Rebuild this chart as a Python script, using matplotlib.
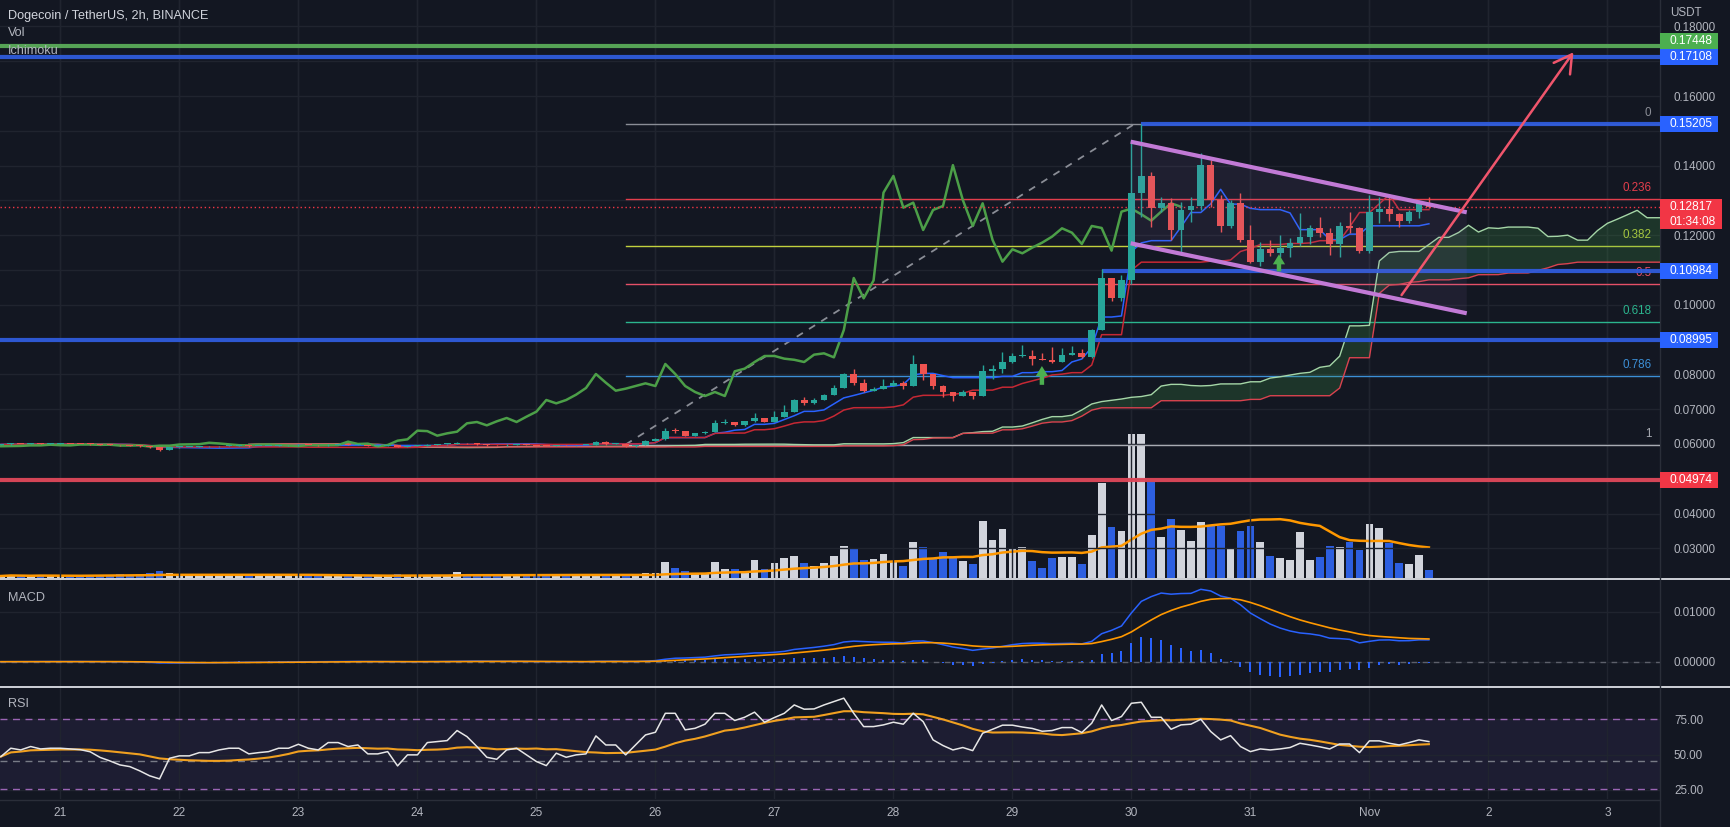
import numpy as np
import pandas as pd
import matplotlib
matplotlib.use("Agg")
import matplotlib.pyplot as plt
from matplotlib import transforms
from matplotlib.patches import Rectangle, Polygon, FancyArrowPatch
from matplotlib.lines import Line2D

plt.rcParams['font.family'] = ['Liberation Sans', 'DejaVu Sans']

# ---------------------------------------------------------------- data
start_day = 20.5          # first 2h bar (Oct 20, 12:00), x unit = day of October
bars_per_day = 12
first_open = 0.05985

close_flat = [0.05990, 0.06005, 0.06000, 0.06010, 0.06005, 0.06008, 0.06008, 0.06005, 0.06002, 0.05995,
              0.05985, 0.05975, 0.05960, 0.05955, 0.05935, 0.05900, 0.05820, 0.05905, 0.05915, 0.05915,
              0.05930, 0.05930, 0.05945, 0.05955, 0.05955, 0.05935, 0.05940, 0.05945, 0.05960, 0.05960,
              0.05980, 0.05965, 0.05960, 0.05985, 0.05985, 0.05975, 0.05980, 0.05955, 0.05955, 0.05962,
              0.05925, 0.05950, 0.05950, 0.05985, 0.05990, 0.05995, 0.06035, 0.06015, 0.05990, 0.05965,
              0.05960, 0.05980, 0.05985, 0.05970, 0.05955, 0.05940, 0.05970, 0.05960, 0.05965, 0.05968]
high_flat = [0.06000, 0.06015, 0.06012, 0.06025, 0.06015, 0.06030, 0.06015, 0.06012, 0.06010, 0.06005,
             0.05998, 0.05990, 0.05980, 0.05968, 0.05960, 0.05940, 0.05905, 0.05915, 0.05925, 0.05925,
             0.05940, 0.05938, 0.05955, 0.05965, 0.05962, 0.05960, 0.05950, 0.05955, 0.05972, 0.05968,
             0.05995, 0.05985, 0.05970, 0.05995, 0.05992, 0.05990, 0.05988, 0.05985, 0.05962, 0.05970,
             0.05965, 0.05958, 0.05960, 0.05995, 0.06000, 0.06005, 0.06060, 0.06040, 0.06020, 0.05995,
             0.05972, 0.05990, 0.05995, 0.05990, 0.05975, 0.05960, 0.05978, 0.05975, 0.05972, 0.05975]
low_flat = [0.05975, 0.05985, 0.05992, 0.05995, 0.05998, 0.06000, 0.06000, 0.05995, 0.05995, 0.05985,
            0.05975, 0.05965, 0.05950, 0.05945, 0.05925, 0.05885, 0.05800, 0.05815, 0.05895, 0.05905,
            0.05910, 0.05920, 0.05925, 0.05940, 0.05945, 0.05925, 0.05928, 0.05935, 0.05940, 0.05950,
            0.05955, 0.05958, 0.05950, 0.05955, 0.05975, 0.05965, 0.05968, 0.05945, 0.05945, 0.05950,
            0.05915, 0.05920, 0.05940, 0.05945, 0.05978, 0.05985, 0.05990, 0.06005, 0.05980, 0.05955,
            0.05950, 0.05955, 0.05975, 0.05962, 0.05945, 0.05930, 0.05935, 0.05952, 0.05955, 0.05958]

close_rise = [0.06067, 0.06000, 0.06010, 0.05930, 0.05970, 0.06095, 0.06134, 0.06383, 0.06370, 0.06239,
              0.06306, 0.06354, 0.06594, 0.06632, 0.06536, 0.06651, 0.06747, 0.06632, 0.06785, 0.06929,
              0.07264, 0.07168, 0.07264, 0.07417, 0.07609, 0.08011, 0.07762, 0.07532, 0.07590, 0.07666,
              0.07743, 0.07666, 0.08299, 0.08011, 0.07666, 0.07494, 0.07379, 0.07494, 0.07379, 0.08088,
              0.08165, 0.08356, 0.08528, 0.08530, 0.08452, 0.08420, 0.08356, 0.08567, 0.08605, 0.08490,
              0.09276, 0.10770, 0.10186, 0.10700,
              0.13223, 0.13702, 0.12792, 0.12936, 0.12150, 0.12725, 0.12840, 0.14013, 0.13012, 0.12265,
              0.12917, 0.11863, 0.11240, 0.11595, 0.11480, 0.11643, 0.11786, 0.11959, 0.12198, 0.12073,
              0.11748, 0.12265, 0.12208, 0.11556, 0.12677, 0.12763, 0.12600, 0.12418, 0.12677, 0.12917,
              0.12817]
high_rise = [0.06090, 0.06075, 0.06020, 0.06015, 0.05980, 0.06105, 0.06160, 0.06450, 0.06450, 0.06380,
             0.06315, 0.06365, 0.06689, 0.06709, 0.06640, 0.06660, 0.06900, 0.06755, 0.06958, 0.07111,
             0.07280, 0.07350, 0.07320, 0.07430, 0.07686, 0.08030, 0.08165, 0.07877, 0.07647, 0.07858,
             0.07839, 0.07820, 0.08567, 0.08310, 0.08020, 0.07700, 0.07500, 0.07551, 0.07500, 0.08280,
             0.08280, 0.08643, 0.08605, 0.08854, 0.08701, 0.08610, 0.08797, 0.08758, 0.08816, 0.08739,
             0.09295, 0.11038, 0.10780, 0.10850,
             0.14737, 0.15205, 0.13827, 0.13108, 0.13060, 0.12964, 0.13108, 0.14353, 0.14162, 0.13156,
             0.13012, 0.13204, 0.12294, 0.11815, 0.11863, 0.12007, 0.11911, 0.12629, 0.12294, 0.12533,
             0.12198, 0.12390, 0.12677, 0.12250, 0.13156, 0.13108, 0.13127, 0.12650, 0.12720, 0.13012,
             0.13108]
low_rise = [0.05960, 0.05985, 0.05992, 0.05920, 0.05925, 0.05965, 0.06085, 0.06125, 0.06320, 0.06230,
            0.06230, 0.06295, 0.06345, 0.06580, 0.06525, 0.06530, 0.06640, 0.06620, 0.06625, 0.06775,
            0.06920, 0.07111, 0.07160, 0.07255, 0.07400, 0.07600, 0.07686, 0.07490, 0.07525, 0.07580,
            0.07660, 0.07590, 0.07660, 0.07839, 0.07590, 0.07360, 0.07245, 0.07370, 0.07302, 0.07370,
            0.07860, 0.08030, 0.08340, 0.08509, 0.08260, 0.08400, 0.08320, 0.08350, 0.08560, 0.08480,
            0.08480, 0.09270, 0.10119, 0.10100,
            0.10600, 0.12533, 0.12246, 0.12677, 0.11863, 0.11432, 0.12390, 0.12725, 0.12820, 0.12102,
            0.12220, 0.11800, 0.11192, 0.11116, 0.11403, 0.11384, 0.11384, 0.11700, 0.11748, 0.11959,
            0.11432, 0.11384, 0.12073, 0.11500, 0.11500, 0.12342, 0.12418, 0.12227, 0.12342, 0.12485,
            0.12780]

volume_flat = [2, 3, 2, 2, 3, 2, 2, 2, 2, 3, 3, 3, 4, 3, 4, 5, 7, 5, 3, 3,
               3, 2, 2, 3, 2, 3, 2, 2, 3, 2, 3, 2, 2, 3, 2, 2, 2, 3, 2, 2,
               4, 3, 2, 3, 3, 3, 6, 4, 3, 3, 2, 3, 2, 3, 3, 3, 4, 2, 2, 3]
volume_rise = [4, 3, 2, 2.3, 3.3, 5, 5, 16, 10, 6.7, 4.3, 5, 16, 9, 9, 5, 18.3, 9, 15, 20,
               21.7, 15, 11.7, 15, 22.3, 32.3, 29, 18.3, 19, 24, 16.7, 11.7, 36.3, 31.3, 19, 26.3,
               19.7, 17.3, 14.3, 57.3, 38.3, 49.3, 29.3, 31.3, 17.3, 10.3, 19.7, 20.7, 20.7, 14.3,
               43.3, 95.3, 51.3, 47.3, 143.7, 144.3, 96.3, 41.3, 59.3, 48.3, 37.3, 56.3, 52.3, 51.7,
               29.3, 46.7, 52.3, 36.3, 22.3, 19.7, 18.3, 46.3, 18.3, 20.7, 32.3, 31.3, 36.3, 28.3,
               54.3, 50.3, 35.3, 15, 14.3, 23.3, 8.3]

rsi_values = [48.6, 54.5, 53.3, 55.7, 54.0, 54.5, 54.5, 54.0, 53.5, 52.0,
              48.0, 45.5, 42.7, 41.5, 38.5, 35.0, 32.8, 47.4, 49.1, 49.1,
              51.4, 51.4, 53.3, 54.5, 54.5, 50.5, 51.4, 52.1, 54.5, 54.5,
              57.3, 54.5, 53.3, 58.5, 58.5, 55.7, 56.8, 50.5, 50.5, 52.1,
              42.0, 49.8, 49.8, 58.5, 59.2, 59.9, 67.0, 62.7, 55.7, 48.1,
              46.7, 53.3, 54.5, 49.8, 45.1, 42.2, 51.0, 48.1, 49.8, 50.5,
              63.2, 56.8, 56.8, 49.8, 56.8, 63.9, 65.8, 79.2, 79.2, 67.5,
              68.6, 71.5, 79.2, 79.2, 74.1, 76.4, 80.0, 72.9, 76.2, 79.2,
              85.1, 82.1, 82.3, 85.1, 87.5, 89.9, 79.2, 69.8, 69.8, 71.0,
              72.9, 71.5, 79.2, 73.3, 60.4, 56.4, 53.3, 55.0, 52.8, 65.1,
              67.9, 70.8, 70.8, 69.5, 68.5, 66.5, 67.0, 69.1, 69.1, 65.6,
              72.2, 85.1, 74.1, 76.9, 86.3, 87.0, 76.4, 76.4, 67.9, 71.0,
              71.5, 75.0, 66.3, 60.4, 63.4, 55.7, 52.1, 54.0, 53.3, 54.0,
              55.0, 58.0, 56.8, 55.5, 54.0, 57.5, 57.5, 51.4, 59.7, 59.7,
              58.0, 56.8, 58.5, 60.4, 59.2]

# horizontal levels drawn by the author
level_prices = [0.17448, 0.17108, 0.15205, 0.10984, 0.08995, 0.04974]
level_line_colors = ['#5aac5a', '#2f5bdb', '#2f5bdb', '#2f5bdb', '#2f5bdb', '#e0485a']
level_box_colors = ['#4caf50', '#2962ff', '#2962ff', '#2962ff', '#2962ff', '#f23645']
level_start_day = [None, None, 30.083, 29.75, None, None]
level_box_shift = [5, 0, 0, 0, 0, 0]     # label nudged up to avoid overlap

# price-scale ticks (labels hidden where a level box covers them)
price_ticks = [0.03, 0.04, 0.05, 0.06, 0.07, 0.08, 0.09, 0.10, 0.11, 0.12, 0.13, 0.14, 0.15, 0.16, 0.17, 0.18]
price_tick_shown = [True, True, False, True, True, True, False, True, False, True, False, True, False, True, False, True]

fib_low, fib_high = 0.05985, 0.15205
fib_ratios = [0, 0.236, 0.382, 0.5, 0.618, 0.786, 1]
fib_labels = ['0', '0.236', '0.382', '0.5', '0.618', '0.786', '1']
fib_colors = ['#8a8d96', '#e33e4c', '#c2d13e', '#e55068', '#2bb58e', '#3c8fd6', '#a8abb3']
fib_start_day = 25.75
fib_trend_days = [25.75, 30.03]

channel_days = [29.994, 32.818]
channel_upper = [0.14687, 0.12658]
channel_lower = [0.11768, 0.09756]
target_arrow_days = [32.257, 33.728]
target_arrow_prices = [0.10216, 0.17322]
buy_arrow_days = [29.248, 31.24]
buy_arrow_tail = [0.07700, 0.10960]
buy_arrow_head = [0.08240, 0.11450]

current_price = 0.12817
countdown = '01:34:08'
day_ticks = list(range(21, 35))
day_labels = ['21', '22', '23', '24', '25', '26', '27', '28', '29', '30', '31', 'Nov', '2', '3']

# ---------------------------------------------------------------- derived series
close = np.array(close_flat + close_rise)
high = np.array(high_flat + high_rise)
low = np.array(low_flat + low_rise)
vol = np.array(volume_flat + volume_rise, dtype=float)
rsi = np.array(rsi_values)
n = len(close)
assert len(high) == n and len(low) == n and len(vol) == n and len(rsi) == n
x = start_day + np.arange(n) / bars_per_day
opn = np.r_[first_open, close[:-1]]
up = close >= opn

sh, sl, sc = pd.Series(high), pd.Series(low), pd.Series(close)
def midline(p):
    return ((sh.rolling(p, min_periods=1).max() + sl.rolling(p, min_periods=1).min()) / 2).values
tenkan = midline(9)
kijun = midline(26)
spanA = (tenkan + kijun) / 2
spanB = midline(52)
disp = 25 / bars_per_day

ema12 = sc.ewm(span=12, adjust=False).mean()
ema26 = sc.ewm(span=26, adjust=False).mean()
macd = (ema12 - ema26).values
signal = pd.Series(macd).ewm(span=9, adjust=False).mean().values
hist = macd - signal
rsi_ma = pd.Series(rsi).rolling(14, min_periods=1).mean().values
vol_ma = pd.Series(vol).rolling(20, min_periods=1).mean().values

# ---------------------------------------------------------------- figure
BG = '#131722'
GRID = '#20242f'
TXT = '#b2b5be'
GREEN, RED = '#26a69a', '#ef5350'
W, H = 1730, 827
fig = plt.figure(figsize=(W / 100, H / 100), dpi=100, facecolor=BG)
PR = 1660

def rect(top, bottom):
    return [0, 1 - bottom / H, PR / W, (bottom - top) / H]

ax = fig.add_axes(rect(0, 578))
axv = fig.add_axes(rect(0, 578), sharex=ax)
axm = fig.add_axes(rect(578, 686), sharex=ax)
axr = fig.add_axes(rect(686, 799), sharex=ax)
axv.set_zorder(1)
ax.set_zorder(2)
ax.patch.set_visible(False)

for a in (ax, axv, axm, axr):
    a.set_facecolor(BG)
    for s in a.spines.values():
        s.set_visible(False)
    a.tick_params(axis='x', length=0, labelbottom=False)
    a.set_xticks(day_ticks)
    a.grid(axis='x', color=GRID, lw=1)
    a.set_axisbelow(True)

ax.set_xlim(20.4924, 34.442)
ax.set_ylim(0.02149, 0.18759)
axm.set_ylim(-0.00486, 0.01674)
axr.set_ylim(18.6, 98.5)

# y axes
for a in (ax, axm, axr):
    a.yaxis.tick_right()
    a.tick_params(axis='y', length=0, pad=10, labelsize=8.4, labelcolor=TXT)
ax.set_yticks(price_ticks)
ax.set_yticklabels(['%.5f' % v if s else '' for v, s in zip(price_ticks, price_tick_shown)])
ax.grid(axis='y', color=GRID, lw=1)
axm.set_yticks([0.0, 0.01])
axm.set_yticklabels(['0.00000', '0.01000'])
axm.grid(axis='y', color=GRID, lw=1)
axr.set_yticks([25, 50, 75])
axr.set_yticklabels(['25.00', '50.00', '75.00'])
axr.grid(axis='y', color=GRID, lw=1)
axv.set_yticks([])
axv.set_ylim(0, vol.max() * 4.0)

axr.set_xticks(day_ticks)
axr.set_xticklabels(day_labels)
axr.tick_params(axis='x', labelbottom=True, pad=6, labelsize=8.6, labelcolor=TXT)

# ---------------------------------------------------------------- volume
axv.bar(x, vol, width=0.78 / bars_per_day, color=np.where(up, '#d1d4dc', '#2d5fe0'), zorder=2)
axv.plot(x, vol_ma, color='#ff9800', lw=1.8, zorder=3)

# ---------------------------------------------------------------- fib retracement
fib_range = fib_high - fib_low
blend = transforms.blended_transform_factory(ax.transAxes, ax.transData)
for r, lab, col in zip(fib_ratios, fib_labels, fib_colors):
    lvl = fib_high - r * fib_range
    ax.plot([fib_start_day, 34.442], [lvl, lvl], color=col, lw=1, zorder=1)
    ax.annotate(lab, xy=(0.9948, lvl), xycoords=blend, xytext=(0, 11), textcoords='offset pixels',
                ha='right', va='center', color=col, fontsize=8.4, zorder=1.1)
ax.plot(fib_trend_days, [fib_low, fib_high], color='#8a8d96', lw=1.3, dashes=(4, 4), zorder=1.2)

# ---------------------------------------------------------------- ichimoku
xl = x + disp
ax.fill_between(xl, spanA, spanB, where=spanA >= spanB, interpolate=True, color='#43a047', alpha=0.22, lw=0, zorder=1.3)
ax.fill_between(xl, spanA, spanB, where=spanA < spanB, interpolate=True, color='#f44336', alpha=0.22, lw=0, zorder=1.3)
ax.plot(xl, spanA, color='#a5d6a7', lw=1, zorder=1.4)
ax.plot(xl, spanB, color='#d9434f', lw=1, zorder=1.4)
ax.plot(x, tenkan, color='#2962ff', lw=1.1, zorder=1.5)
ax.plot(x, kijun, color='#c62834', lw=1.1, zorder=1.5)
ax.plot(x - disp, close, color='#4c9f48', lw=1.8, zorder=1.6)

# ---------------------------------------------------------------- levels
for p, lc, sd in zip(level_prices, level_line_colors, level_start_day):
    x0 = 20.4924 if sd is None else sd
    ax.plot([x0, 34.442], [p, p], color=lc, lw=3.0, solid_capstyle='butt', zorder=2.5, alpha=0.95)
ax.axhline(current_price, color='#f23645', lw=1, dashes=(1, 2), zorder=2.6)

# ---------------------------------------------------------------- candles
cols = np.where(up, GREEN, RED)
ax.vlines(x, low, high, colors=cols, lw=1, zorder=2.7)
body_lo = np.minimum(opn, close)
body_h = np.maximum(np.abs(close - opn), 0.00025)
ax.bar(x, body_h, bottom=body_lo, width=0.68 / bars_per_day, color=cols, lw=0, zorder=2.8)

# ---------------------------------------------------------------- channel & arrows
poly = Polygon([[channel_days[0], channel_upper[0]], [channel_days[1], channel_upper[1]],
                [channel_days[1], channel_lower[1]], [channel_days[0], channel_lower[0]]],
               closed=True, facecolor='#8c6fb5', alpha=0.10, edgecolor='none', zorder=2.9)
ax.add_patch(poly)
ax.plot(channel_days, channel_upper, color='#c27ad6', lw=3.0, solid_capstyle='butt', zorder=3)
ax.plot(channel_days, channel_lower, color='#c27ad6', lw=3.0, solid_capstyle='butt', zorder=3)
ax.add_patch(FancyArrowPatch((target_arrow_days[0], target_arrow_prices[0]),
                             (target_arrow_days[1], target_arrow_prices[1]),
                             arrowstyle='->,head_length=0.7,head_width=0.4', mutation_scale=18,
                             color='#f0556c', lw=1.8, zorder=3.1))
for d, t, h_ in zip(buy_arrow_days, buy_arrow_tail, buy_arrow_head):
    ax.add_patch(FancyArrowPatch((d, t), (d, h_),
                                 arrowstyle='simple,head_length=0.45,head_width=0.55,tail_width=0.2',
                                 mutation_scale=16, color='#4caf50', lw=0, shrinkA=0, shrinkB=0,
                                 zorder=3.1))

# ---------------------------------------------------------------- MACD
axm.bar(x, hist, width=0.2 / bars_per_day, color='#2962ff', zorder=2)
axm.axhline(0, color='#787b86', lw=1, dashes=(4, 4), alpha=0.7, zorder=1)
axm.plot(x, macd, color='#2962ff', lw=1.1, zorder=3)
axm.plot(x, signal, color='#ff9800', lw=1.2, zorder=3)

# ---------------------------------------------------------------- RSI
axr.axhspan(25.5, 75, color='#7e57c2', alpha=0.10, lw=0, zorder=0.5)
for lv, c in ((75, '#9a64b4'), (45.5, '#787b86'), (25.5, '#9a64b4')):
    axr.axhline(lv, color=c, lw=1, dashes=(5, 4), zorder=1)
axr.plot(x, rsi_ma, color='#f0a020', lw=1.5, zorder=2)
axr.plot(x, rsi, color='#e6e6e6', lw=1.1, zorder=3)

# ---------------------------------------------------------------- texts
fig.text(8 / W, 1 - 16.5 / H, 'Dogecoin / TetherUS, 2h, BINANCE', color='#d1d4dc', fontsize=9.1, va='center')
fig.text(8 / W, 1 - 33.5 / H, 'Vol', color=TXT, fontsize=9.1, va='center')
fig.text(8 / W, 1 - 51 / H, 'Ichimoku', color=TXT, fontsize=9.1, va='center')
fig.text(8 / W, 1 - 598 / H, 'MACD', color=TXT, fontsize=9.1, va='center')
fig.text(8 / W, 1 - 704 / H, 'RSI', color=TXT, fontsize=9.1, va='center')
fig.text(1670 / W, 1 - 13 / H, 'USDT', color=TXT, fontsize=8.4, va='center')

# separators
for yy in (578.5, 686.5):
    fig.add_artist(Line2D([0, 1], [1 - yy / H] * 2, transform=fig.transFigure, color='#cfd2d8', lw=1.4))
fig.add_artist(Line2D([PR / W] * 2, [0, 1], transform=fig.transFigure, color='#2a2e39', lw=1))
fig.add_artist(Line2D([0, PR / W], [1 - 799.5 / H] * 2, transform=fig.transFigure, color='#2a2e39', lw=1))

# price-axis boxes
fig.canvas.draw()
def price_box(price, label, color, shift=0, sub=None):
    yd = ax.transData.transform((25, price))[1] + shift
    hgt = 16 if sub is None else 30.5
    top = yd + 8
    fig.add_artist(Rectangle((PR / W, (top - hgt) / H), (58 if sub is None else 62) / W, hgt / H,
                             transform=fig.transFigure, facecolor=color, edgecolor='none', zorder=5))
    fig.text(1670 / W, yd / H, label, color='white', fontsize=8.6, va='center', ha='left', zorder=6)
    if sub is not None:
        fig.text(1670 / W, (yd - 15) / H, sub, color='white', fontsize=8.6, va='center', ha='left', zorder=6)

for p, bc, sft in zip(level_prices, level_box_colors, level_box_shift):
    price_box(p, '%.5f' % p, bc, shift=sft)
price_box(current_price, '%.5f' % current_price, '#f23645', sub=countdown)

fig.savefig('out.png', dpi=100, facecolor=BG)
